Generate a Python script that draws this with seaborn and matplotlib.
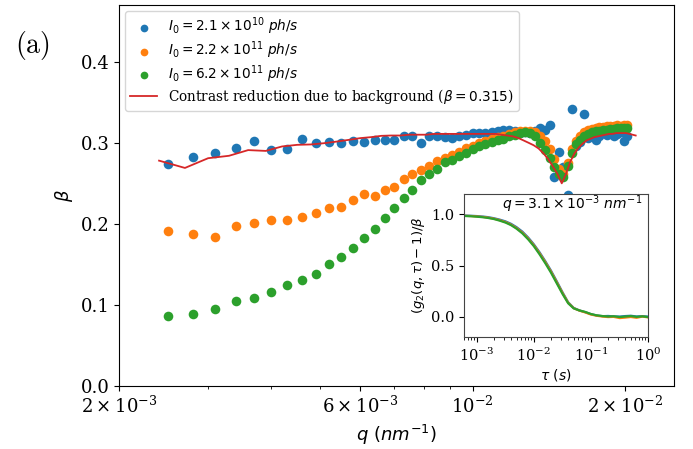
import matplotlib
matplotlib.use("Agg")
import matplotlib.pyplot as plt
import seaborn as sns
import numpy as np
from matplotlib.ticker import NullFormatter

# ---------------- data ----------------
q_data = [2.5e-3, 2.8e-3, 3.1e-3, 3.4e-3, 3.7e-3, 4.0e-3, 4.3e-3, 4.6e-3, 4.9e-3, 5.2e-3,
          5.5e-3, 5.8e-3, 6.1e-3, 6.4e-3, 6.7e-3, 7.0e-3, 7.3e-3, 7.6e-3, 7.9e-3, 8.2e-3,
          8.5e-3, 8.8e-3, 9.1e-3, 9.4e-3, 9.7e-3, 10.0e-3, 10.3e-3, 10.6e-3, 10.9e-3, 11.2e-3,
          11.5e-3, 11.8e-3, 12.1e-3, 12.4e-3, 12.7e-3, 13.0e-3, 13.3e-3, 13.6e-3, 13.9e-3, 14.2e-3,
          14.5e-3, 14.8e-3, 15.1e-3, 15.4e-3, 15.7e-3, 16.0e-3, 16.3e-3, 16.6e-3, 16.9e-3, 17.2e-3,
          17.5e-3, 17.8e-3, 18.1e-3, 18.4e-3, 18.7e-3, 19.0e-3, 19.3e-3, 19.6e-3, 19.9e-3, 20.2e-3]

beta_low = [0.274, 0.283, 0.287, 0.293, 0.302, 0.291, 0.292, 0.305, 0.300, 0.301,
            0.300, 0.302, 0.301, 0.303, 0.304, 0.304, 0.308, 0.308, 0.300, 0.308,
            0.309, 0.307, 0.306, 0.308, 0.310, 0.312, 0.312, 0.312, 0.313, 0.314,
            0.316, 0.316, 0.314, 0.312, 0.313, 0.312, 0.314, 0.318, 0.316, 0.322,
            0.258, 0.289, 0.270, 0.236, 0.342, 0.296, 0.301, 0.335, 0.306, 0.310,
            0.304, 0.309, 0.312, 0.310, 0.313, 0.308, 0.311, 0.313, 0.302, 0.309]

beta_mid = [0.191, 0.188, 0.184, 0.197, 0.201, 0.205, 0.205, 0.208, 0.214, 0.219,
            0.221, 0.230, 0.237, 0.235, 0.242, 0.245, 0.255, 0.261, 0.267, 0.271,
            0.277, 0.281, 0.285, 0.289, 0.293, 0.296, 0.300, 0.302, 0.305, 0.307,
            0.309, 0.311, 0.313, 0.314, 0.315, 0.315, 0.313, 0.309, 0.302, 0.292,
            0.280, 0.268, 0.262, 0.275, 0.292, 0.302, 0.309, 0.313, 0.316, 0.317,
            0.318, 0.319, 0.320, 0.321, 0.321, 0.321, 0.322, 0.321, 0.322, 0.322]

beta_high = [0.086, 0.089, 0.095, 0.105, 0.109, 0.116, 0.124, 0.131, 0.138, 0.150,
             0.159, 0.170, 0.182, 0.194, 0.207, 0.219, 0.232, 0.242, 0.254, 0.261,
             0.268, 0.276, 0.279, 0.284, 0.288, 0.292, 0.296, 0.298, 0.301, 0.303,
             0.305, 0.308, 0.310, 0.312, 0.313, 0.312, 0.308, 0.300, 0.291, 0.281,
             0.270, 0.262, 0.258, 0.272, 0.288, 0.298, 0.304, 0.308, 0.311, 0.313,
             0.314, 0.315, 0.316, 0.316, 0.317, 0.317, 0.318, 0.318, 0.318, 0.318]

q_bg = [2.4e-3, 2.7e-3, 3.0e-3, 3.3e-3, 3.6e-3, 3.9e-3, 4.2e-3, 4.5e-3, 4.8e-3, 5.1e-3,
        5.4e-3, 5.7e-3, 6.0e-3, 6.3e-3, 6.6e-3, 6.9e-3, 7.2e-3, 7.5e-3, 7.8e-3, 8.1e-3,
        8.4e-3, 8.7e-3, 9.0e-3, 9.3e-3, 9.6e-3, 9.9e-3, 10.2e-3, 10.5e-3, 10.8e-3, 11.1e-3,
        11.4e-3, 11.7e-3, 12.0e-3, 12.3e-3, 12.6e-3, 12.9e-3, 13.2e-3, 13.5e-3, 13.8e-3, 14.1e-3,
        14.4e-3, 14.7e-3, 15.0e-3, 15.3e-3, 15.6e-3, 15.9e-3, 16.2e-3, 16.5e-3, 16.8e-3, 17.1e-3,
        17.4e-3, 17.7e-3, 18.0e-3, 18.3e-3, 18.6e-3, 18.9e-3, 19.2e-3, 19.5e-3, 19.8e-3, 20.1e-3,
        20.4e-3, 20.7e-3, 21.0e-3]

beta_bg = [0.278, 0.269, 0.281, 0.284, 0.291, 0.290, 0.2955, 0.2975, 0.298, 0.2996,
           0.3016, 0.3037, 0.3058, 0.307, 0.3086, 0.309, 0.309, 0.310, 0.310, 0.310,
           0.311, 0.311, 0.311, 0.311, 0.311, 0.311, 0.311, 0.311, 0.311, 0.311,
           0.310, 0.309, 0.308, 0.306, 0.303, 0.300, 0.297, 0.293, 0.287, 0.280,
           0.271, 0.262, 0.250, 0.262, 0.277, 0.287, 0.294, 0.299, 0.303, 0.305,
           0.307, 0.308, 0.309, 0.310, 0.311, 0.311, 0.312, 0.312, 0.312, 0.312,
           0.311, 0.310, 0.309]

tau = [6e-4, 8e-4, 1e-3, 1.3e-3, 1.6e-3, 2e-3, 2.5e-3, 3.2e-3, 4e-3, 5e-3,
       6.3e-3, 8e-3, 1e-2, 1.26e-2, 1.6e-2, 2e-2, 2.5e-2, 3.2e-2, 4e-2, 5e-2,
       6.3e-2, 8e-2, 0.1, 0.126, 0.16, 0.2, 0.25, 0.32, 0.4, 0.5, 0.63, 0.8, 1.0]

g_low = [0.99, 0.987, 0.984, 0.979, 0.973, 0.963, 0.95, 0.932, 0.908, 0.875,
         0.832, 0.773, 0.708, 0.63, 0.54, 0.45, 0.35, 0.236, 0.14, 0.085,
         0.06, 0.043, 0.024, 0.011, 0.004, 0.006, 0.002, 0.0, 0.005, 0.008, 0.001, 0.004, 0.0]
g_mid = [0.987, 0.984, 0.98, 0.975, 0.968, 0.958, 0.944, 0.925, 0.9, 0.866,
         0.822, 0.763, 0.698, 0.62, 0.53, 0.44, 0.34, 0.228, 0.135, 0.082,
         0.058, 0.04, 0.02, 0.008, 0.0, -0.005, -0.003, -0.015, -0.01, -0.004, -0.012, 0.0, -0.008]
g_high = [0.985, 0.982, 0.978, 0.972, 0.965, 0.955, 0.94, 0.92, 0.895, 0.86,
          0.815, 0.755, 0.69, 0.61, 0.52, 0.43, 0.33, 0.22, 0.13, 0.08,
          0.06, 0.045, 0.025, 0.012, 0.005, 0.0, 0.003, -0.005, 0.0, 0.005, -0.003, 0.002, -0.005]

labels = [r'$I_0 = 2.1\times10^{10}\ ph/s$',
          r'$I_0 = 2.2\times10^{11}\ ph/s$',
          r'$I_0 = 6.2\times10^{11}\ ph/s$']
bg_label = r'Contrast reduction due to background ($\beta = 0.315$)'
colors = ['#1f77b4', '#ff7f0e', '#2ca02c']
red = '#d62728'

xtick_vals = [2e-3, 6e-3, 1e-2, 2e-2]
xtick_labels = [r'$\mathdefault{2\times10^{-3}}$', r'$\mathdefault{6\times10^{-3}}$',
                r'$\mathdefault{10^{-2}}$', r'$\mathdefault{2\times10^{-2}}$']

# ---------------- style ----------------
plt.rcParams['font.family'] = ['DejaVu Serif']
plt.rcParams['mathtext.fontset'] = 'dejavusans'

W, H = 693, 449
fig = plt.figure(figsize=(W / 100, H / 100), dpi=100)
ax = fig.add_axes([119 / W, 1 - 386 / H, (674 - 119) / W, (386 - 5) / H])

for yv, lab, c in zip([beta_low, beta_mid, beta_high], labels, colors):
    sns.scatterplot(x=q_data, y=yv, color=c, s=48, linewidth=0, label=lab, ax=ax, zorder=3)
sns.lineplot(x=q_bg, y=beta_bg, color=red, lw=1.3, sort=False, estimator=None,
             label=bg_label, ax=ax, zorder=4)

ax.set_xscale('log')
ax.set_xlim(2e-3, 2.5e-2)
ax.set_ylim(0, 0.47)
ax.set_yticks([0.0, 0.1, 0.2, 0.3, 0.4])
ax.set_xticks(xtick_vals, xtick_labels)
ax.xaxis.set_minor_formatter(NullFormatter())
ax.tick_params(axis='both', which='major', labelsize=13)
ax.set_xlabel(r'$q\ (nm^{-1})$', fontsize=13)
ax.set_ylabel(r'$\beta$', fontsize=13)
ax.legend(loc='upper left', fontsize=9.8, handletextpad=0.8, markerscale=0.8,
          labelspacing=0.15, borderpad=0.35, borderaxespad=0.45)

fig.text(32 / W, 1 - 45 / H, r'$\mathrm{(a)}$', math_fontfamily='cm', fontsize=20,
         ha='center', va='center')

# ---------------- inset ----------------
ins = fig.add_axes([464 / W, 1 - 337 / H, 184 / W, 143 / H])
for gv, c in zip([g_low, g_mid, g_high], colors):
    sns.lineplot(x=tau, y=gv, color=c, lw=1.6, sort=False, estimator=None, ax=ins)
ins.set_xscale('log')
ins.set_xlim(6e-4, 1.0)
ins.set_ylim(-0.2, 1.2)
ins.set_yticks([0.0, 0.5, 1.0])
ins.tick_params(axis='both', which='major', labelsize=10.5)
ins.set_xlabel(r'$\tau\ (s)$', fontsize=10, labelpad=2)
ins.set_ylabel(r'$(g_2(q,\tau)-1)/\beta$', fontsize=9.5, labelpad=3)
for sp in ins.spines.values():
    sp.set_color('#444444')
ins.text(0.97, 0.93, r'$q = 3.1\times10^{-3}\ nm^{-1}$', transform=ins.transAxes,
         ha='right', va='center', fontsize=10)

fig.savefig('out.png', dpi=100)
